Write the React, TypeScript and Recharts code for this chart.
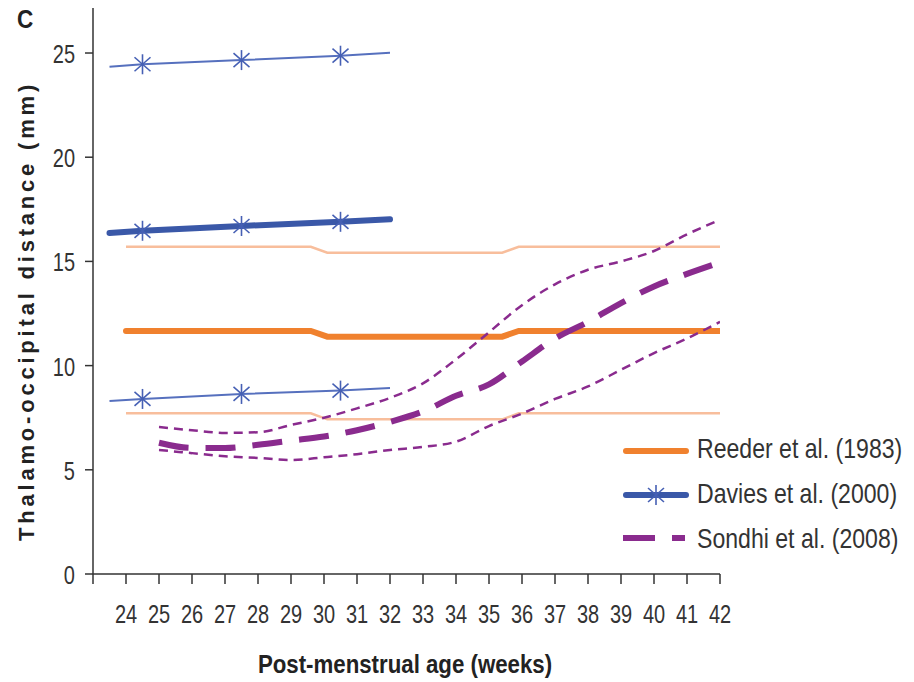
import { LineChart, Line, XAxis, YAxis } from "recharts";

// Reeder et al. (1983): mean and limits, with the small dip between 30 and 36 weeks
const reederWeeks = [24, 29.6, 30.1, 35.4, 35.9, 42];
const reederMean = [11.66, 11.66, 11.39, 11.39, 11.66, 11.66];
const reederUpper = [15.7, 15.7, 15.42, 15.42, 15.7, 15.7];
const reederLower = [7.71, 7.71, 7.42, 7.42, 7.71, 7.71];

// Davies et al. (2000)
const daviesWeeks = [23.5, 24.5, 27.5, 30.5, 32];
const daviesMean = [16.36, 16.47, 16.7, 16.9, 17.02];
const daviesUpper = [24.34, 24.46, 24.66, 24.87, 25.01];
const daviesLower = [8.3, 8.4, 8.64, 8.8, 8.92];
const daviesMarked = [false, true, true, true, false];

// Sondhi et al. (2008)
const sondhiWeeks = [25, 26, 27, 28, 29, 30, 31, 32, 33, 34, 35, 36, 37, 38, 39, 40, 41, 42];
const sondhiMean = [6.3, 6.05, 6.05, 6.2, 6.4, 6.6, 6.9, 7.3, 7.8, 8.55, 9.1, 10.2, 11.3, 12.1, 13.0, 13.8, 14.4, 14.95];
const sondhiUpper = [7.05, 6.9, 6.77, 6.8, 7.15, 7.5, 7.95, 8.45, 9.15, 10.3, 11.6, 12.9, 13.9, 14.6, 15.0, 15.5, 16.3, 17.0];
const sondhiLower = [5.95, 5.8, 5.65, 5.57, 5.47, 5.6, 5.75, 5.95, 6.1, 6.35, 7.1, 7.7, 8.4, 9.0, 9.8, 10.6, 11.3, 12.1];

const xTicks = [23, 24, 25, 26, 27, 28, 29, 30, 31, 32, 33, 34, 35, 36, 37, 38, 39, 40, 41, 42];
const yTicks = [0, 5, 10, 15, 20, 25];

const legendItems = ["Reeder et al. (1983)", "Davies et al. (2000)", "Sondhi et al. (2008)"];

const ORANGE = "#F0812E";
const ORANGE_LIGHT = "#F8BE9C";
const BLUE = "#3A58A8";
const BLUE_THIN = "#5670BE";
const PURPLE = "#8A2B8E";

const SANS = "'Liberation Sans', Arial, sans-serif";

const toRows = (xs: number[], ys: number[], marks?: boolean[]) =>
  xs.map((x, i) => ({ x, v: ys[i], mark: marks ? marks[i] : false }));

// condensed text: Liberation Sans squeezed horizontally
const NarrowText = ({ x, y, size, squeeze, anchor = "start", bold = false, fill = "#333", children }: any) => (
  <text
    transform={`translate(${x},${y}) scale(${squeeze},1)`}
    textAnchor={anchor}
    fontFamily={SANS}
    fontSize={size}
    fontWeight={bold ? "bold" : "normal"}
    fill={fill}
  >
    {children}
  </text>
);

const Asterisk = ({ cx, cy, color }: { cx: number; cy: number; color: string }) => (
  <g stroke={color} strokeWidth={1.6} fill="none">
    <line x1={cx} y1={cy - 10} x2={cx} y2={cy + 10} />
    <line x1={cx - 8} y1={cy - 7} x2={cx + 8} y2={cy + 7} />
    <line x1={cx - 8} y1={cy + 7} x2={cx + 8} y2={cy - 7} />
  </g>
);

const daviesDot = (props: any) => {
  const { cx, cy, payload, index } = props;
  if (!payload || !payload.mark) return <g key={`d-${index}`} />;
  return <Asterisk key={`d-${index}`} cx={cx} cy={cy} color="#4660B4" />;
};

const XTick = (props: any) => {
  const { x, y, payload } = props;
  if (payload.value === 23) return <g />;
  return (
    <NarrowText x={x} y={y + 39} size={25} squeeze={0.8} anchor="middle">
      {payload.value}
    </NarrowText>
  );
};

const YTick = (props: any) => {
  const { x, y, payload } = props;
  return (
    <NarrowText x={x - 10} y={y + 10} size={25} squeeze={0.8} anchor="end">
      {payload.value}
    </NarrowText>
  );
};

export default function App() {
  return (
    <div style={{ position: "absolute", left: 0, top: 0, width: 914, height: 682, background: "#fff", overflow: "hidden" }}>
      <LineChart width={914} height={682} margin={{ top: 8, right: 194, bottom: 78, left: 33 }}>
        <XAxis
          type="number"
          dataKey="x"
          domain={[23, 42]}
          ticks={xTicks}
          interval={0}
          tick={<XTick />}
          tickSize={10}
          tickMargin={0}
          height={30}
          stroke="#333"
          strokeWidth={1.5}
          allowDataOverflow
          label={{
            value: "Post-menstrual age (weeks)",
            position: "insideBottom",
            content: () => (
              <NarrowText x={405} y={673} size={25} squeeze={0.89} anchor="middle" bold fill="#222">
                Post-menstrual age (weeks)
              </NarrowText>
            ),
          }}
        />
        <YAxis
          type="number"
          domain={[0, 27.16]}
          ticks={yTicks}
          interval={0}
          tick={<YTick />}
          tickSize={8}
          tickMargin={0}
          width={60}
          stroke="#333"
          strokeWidth={1.5}
          allowDataOverflow
          label={{
            value: "Thalamo-occipital distance (mm)",
            position: "insideLeft",
            content: () => (
              <text
                x={34}
                y={311}
                transform="rotate(-90, 34, 311)"
                textAnchor="middle"
                fontFamily={SANS}
                fontWeight="bold"
                fontSize={22}
                letterSpacing={3.8}
                fill="#222"
              >
                Thalamo-occipital distance (mm)
              </text>
            ),
          }}
        />

        <Line data={toRows(reederWeeks, reederUpper)} dataKey="v" type="linear" stroke={ORANGE_LIGHT} strokeWidth={2.5} dot={false} activeDot={false} isAnimationActive={false} />
        <Line data={toRows(reederWeeks, reederLower)} dataKey="v" type="linear" stroke={ORANGE_LIGHT} strokeWidth={2.5} dot={false} activeDot={false} isAnimationActive={false} />
        <Line data={toRows(reederWeeks, reederMean)} dataKey="v" type="linear" stroke={ORANGE} strokeWidth={6} strokeLinecap="round" dot={false} activeDot={false} isAnimationActive={false} />

        <Line data={toRows(daviesWeeks, daviesUpper, daviesMarked)} dataKey="v" type="linear" stroke={BLUE_THIN} strokeWidth={2} dot={daviesDot} activeDot={false} isAnimationActive={false} />
        <Line data={toRows(daviesWeeks, daviesLower, daviesMarked)} dataKey="v" type="linear" stroke={BLUE_THIN} strokeWidth={2} dot={daviesDot} activeDot={false} isAnimationActive={false} />
        <Line data={toRows(daviesWeeks, daviesMean, daviesMarked)} dataKey="v" type="linear" stroke={BLUE} strokeWidth={6} strokeLinecap="round" dot={daviesDot} activeDot={false} isAnimationActive={false} />

        <Line data={toRows(sondhiWeeks, sondhiUpper)} dataKey="v" type="monotone" stroke={PURPLE} strokeWidth={2.5} strokeDasharray="9 6" dot={false} activeDot={false} isAnimationActive={false} />
        <Line data={toRows(sondhiWeeks, sondhiLower)} dataKey="v" type="monotone" stroke={PURPLE} strokeWidth={2.5} strokeDasharray="9 6" dot={false} activeDot={false} isAnimationActive={false} />
        <Line data={toRows(sondhiWeeks, sondhiMean)} dataKey="v" type="monotone" stroke={PURPLE} strokeWidth={6} strokeDasharray="30 17" dot={false} activeDot={false} isAnimationActive={false} />
      </LineChart>

      <svg width={914} height={682} style={{ position: "absolute", left: 0, top: 0, pointerEvents: "none" }}>
        <NarrowText x={17} y={28} size={25} squeeze={0.9} bold fill="#222">C</NarrowText>

        <line x1={626} y1={451} x2={686} y2={451} stroke={ORANGE} strokeWidth={6} strokeLinecap="round" />
        <line x1={626} y1={495} x2={686} y2={495} stroke={BLUE} strokeWidth={6} strokeLinecap="round" />
        <Asterisk cx={656} cy={495} color="#4660B4" />
        <line x1={623} y1={538} x2={655} y2={538} stroke={PURPLE} strokeWidth={6} />
        <line x1={672} y1={538} x2={685} y2={538} stroke={PURPLE} strokeWidth={6} />

        {legendItems.map((name, i) => (
          <NarrowText key={name} x={697} y={458 + i * 45} size={27} squeeze={0.855}>
            {name}
          </NarrowText>
        ))}
      </svg>
    </div>
  );
}
